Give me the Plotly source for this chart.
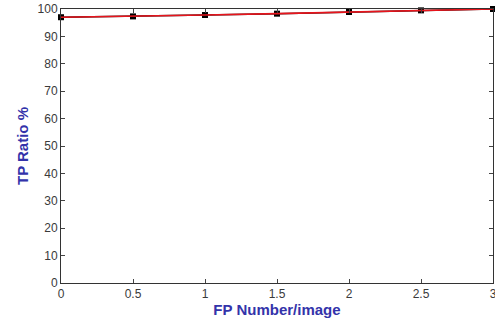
import plotly.graph_objects as go

fp = [0, 0.5, 1, 1.5, 2, 2.5, 3]
tp = [97.0, 97.3, 97.8, 98.3, 98.9, 99.5, 100.0]
x_ticks = [0, 0.5, 1, 1.5, 2, 2.5, 3]
x_tick_text = ["0", "0.5", "1", "1.5", "2", "2.5", "3"]
y_ticks = [0, 10, 20, 30, 40, 50, 60, 70, 80, 90, 100]

fig = go.Figure()
fig.add_trace(go.Scatter(x=fp, y=tp, mode="lines+markers",
                         line=dict(color="black", width=1.5),
                         marker=dict(color="black", size=6, symbol="square"),
                         cliponaxis=False, showlegend=False))
fig.add_trace(go.Scatter(x=fp, y=tp, mode="lines",
                         line=dict(color="#e8141c", width=1.6),
                         cliponaxis=False, showlegend=False))

axis_common = dict(showline=True, linecolor="#333", linewidth=1, mirror="ticks",
                   ticks="inside", ticklen=4, tickcolor="#444", showgrid=False,
                   zeroline=False, automargin=False, ticklabeloverflow="allow",
                   tickfont=dict(family="Arial, Liberation Sans", size=12, color="#3a3a3a"))
fig.update_xaxes(range=[0, 3], tickvals=x_ticks, ticktext=x_tick_text,
                 title=dict(text="<b>FP Number/image</b>", standoff=1,
                            font=dict(family="Arial, Liberation Sans", size=15, color="#3333aa")),
                 **axis_common)
fig.update_yaxes(range=[0, 100], tickvals=y_ticks,
                 title=dict(text="<b>TP Ratio %</b>", standoff=5,
                            font=dict(family="Arial, Liberation Sans", size=15, color="#3333aa")),
                 **axis_common)
fig.update_layout(width=495, height=321, plot_bgcolor="white", paper_bgcolor="white",
                  margin=dict(l=61, r=2, t=9, b=38))
fig.write_html("out.html", config={"displayModeBar": False},
               post_script="document.body.style.margin='0';")
